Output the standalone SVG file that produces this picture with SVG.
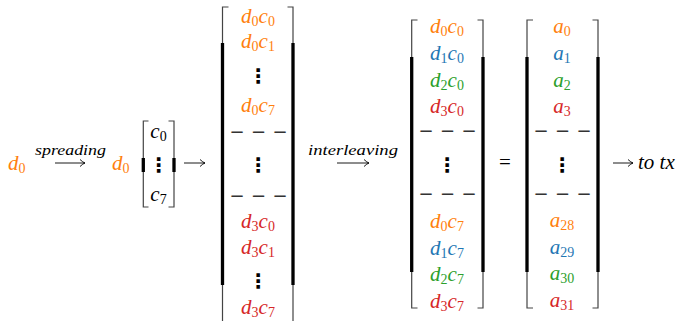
<svg xmlns="http://www.w3.org/2000/svg" width="684" height="321" viewBox="0 0 684 321">
<defs>
<marker id="ah" viewBox="-6 -4 7 8" refX="0" refY="0" markerWidth="7" markerHeight="8" markerUnits="userSpaceOnUse" orient="auto">
<path d="M-5,-3.5 Q-2,-0.6 0,0 Q-2,0.6 -5,3.5" fill="none" stroke="#000" stroke-width="0.9"/>
</marker>
</defs>

<g id="d0-input">
<text font-family="Liberation Serif, serif" font-style="italic" font-size="21" fill="#ff7f0e" x="8" y="170">d<tspan font-style="normal" font-size="14" dy="3">0</tspan></text>
</g>

<g id="label-spreading">
<text font-family="Liberation Serif, serif" font-style="italic" font-size="15" fill="#000" x="35" y="155" textLength="71" lengthAdjust="spacingAndGlyphs">spreading</text>
</g>

<g id="d0-times-code">
<text font-family="Liberation Serif, serif" font-style="italic" font-size="21" fill="#ff7f0e" x="112" y="170">d<tspan font-style="normal" font-size="14" dy="3">0</tspan></text>
<g fill="none">
<path stroke="#444" stroke-width="1.2" d="M148.5,121 H143.3 V158 M143.3,172 V207 H148.5 M168.5,121 H174 V158 M174,172 V207 H168.5"/>
<path stroke="#000" stroke-width="3.3" d="M143.3,158 V172 M174,158 V172"/>
</g>
<text font-family="Liberation Serif, serif" font-style="italic" font-size="21" fill="#000" x="158.5" y="138" text-anchor="middle">c<tspan font-style="normal" font-size="14" dy="3">0</tspan></text>
<text font-family="DejaVu Sans, sans-serif" font-weight="bold" font-size="20" fill="#000" x="158.5" y="172" text-anchor="middle">⋮</text>
<text font-family="Liberation Serif, serif" font-style="italic" font-size="21" fill="#000" x="158.5" y="201" text-anchor="middle">c<tspan font-style="normal" font-size="14" dy="3">7</tspan></text>
</g>

<g id="matrix-spread">
<g fill="none">
<path stroke="#444" stroke-width="1.2" d="M228.5,7 H222.5 V43 M222.5,285 V325 H228.5 M287.5,7 H293 V43 M293,285 V325 H287.5"/>
<path stroke="#000" stroke-width="3.3" d="M222.5,43 V285 M293,43 V285"/>
</g>
<text font-family="Liberation Serif, serif" font-style="italic" font-size="21" fill="#ff7f0e" x="258" y="23" text-anchor="middle">d<tspan font-style="normal" font-size="14" dy="3">0</tspan><tspan dy="-3">c</tspan><tspan font-style="normal" font-size="14" dy="3">0</tspan></text>
<text font-family="Liberation Serif, serif" font-style="italic" font-size="21" fill="#ff7f0e" x="258" y="48" text-anchor="middle">d<tspan font-style="normal" font-size="14" dy="3">0</tspan><tspan dy="-3">c</tspan><tspan font-style="normal" font-size="14" dy="3">1</tspan></text>
<text font-family="DejaVu Sans, sans-serif" font-weight="bold" font-size="20" fill="#000" x="258" y="83" text-anchor="middle">⋮</text>
<text font-family="Liberation Serif, serif" font-style="italic" font-size="21" fill="#ff7f0e" x="258" y="112" text-anchor="middle">d<tspan font-style="normal" font-size="14" dy="3">0</tspan><tspan dy="-3">c</tspan><tspan font-style="normal" font-size="14" dy="3">7</tspan></text>
<text font-family="DejaVu Sans, sans-serif" font-size="18" fill="#333" x="258.5" y="138" text-anchor="middle" textLength="58" lengthAdjust="spacing">−−−</text>
<text font-family="DejaVu Sans, sans-serif" font-weight="bold" font-size="20" fill="#000" x="258" y="172" text-anchor="middle">⋮</text>
<text font-family="DejaVu Sans, sans-serif" font-size="18" fill="#333" x="258.5" y="202" text-anchor="middle" textLength="58" lengthAdjust="spacing">−−−</text>
<text font-family="Liberation Serif, serif" font-style="italic" font-size="21" fill="#d62728" x="258" y="228" text-anchor="middle">d<tspan font-style="normal" font-size="14" dy="3">3</tspan><tspan dy="-3">c</tspan><tspan font-style="normal" font-size="14" dy="3">0</tspan></text>
<text font-family="Liberation Serif, serif" font-style="italic" font-size="21" fill="#d62728" x="258" y="254" text-anchor="middle">d<tspan font-style="normal" font-size="14" dy="3">3</tspan><tspan dy="-3">c</tspan><tspan font-style="normal" font-size="14" dy="3">1</tspan></text>
<text font-family="DejaVu Sans, sans-serif" font-weight="bold" font-size="20" fill="#000" x="258" y="288" text-anchor="middle">⋮</text>
<text font-family="Liberation Serif, serif" font-style="italic" font-size="21" fill="#d62728" x="258" y="314" text-anchor="middle">d<tspan font-style="normal" font-size="14" dy="3">3</tspan><tspan dy="-3">c</tspan><tspan font-style="normal" font-size="14" dy="3">7</tspan></text>
</g>

<g id="label-interleaving">
<text font-family="Liberation Serif, serif" font-style="italic" font-size="15" fill="#000" x="308" y="155" textLength="90" lengthAdjust="spacingAndGlyphs">interleaving</text>
</g>

<g id="matrix-interleaved">
<g fill="none">
<path stroke="#444" stroke-width="1.2" d="M417.5,20 H411.7 V57 M411.7,272 V308 H417.5 M477.5,20 H483 V57 M483,272 V308 H477.5"/>
<path stroke="#000" stroke-width="3.3" d="M411.7,57 V272 M483,57 V272"/>
</g>
<text font-family="Liberation Serif, serif" font-style="italic" font-size="21" fill="#ff7f0e" x="447" y="33" text-anchor="middle">d<tspan font-style="normal" font-size="14" dy="3">0</tspan><tspan dy="-3">c</tspan><tspan font-style="normal" font-size="14" dy="3">0</tspan></text>
<text font-family="Liberation Serif, serif" font-style="italic" font-size="21" fill="#1f77b4" x="447" y="60" text-anchor="middle">d<tspan font-style="normal" font-size="14" dy="3">1</tspan><tspan dy="-3">c</tspan><tspan font-style="normal" font-size="14" dy="3">0</tspan></text>
<text font-family="Liberation Serif, serif" font-style="italic" font-size="21" fill="#2ca02c" x="447" y="86.5" text-anchor="middle">d<tspan font-style="normal" font-size="14" dy="3">2</tspan><tspan dy="-3">c</tspan><tspan font-style="normal" font-size="14" dy="3">0</tspan></text>
<text font-family="Liberation Serif, serif" font-style="italic" font-size="21" fill="#d62728" x="447" y="113" text-anchor="middle">d<tspan font-style="normal" font-size="14" dy="3">3</tspan><tspan dy="-3">c</tspan><tspan font-style="normal" font-size="14" dy="3">0</tspan></text>
<text font-family="DejaVu Sans, sans-serif" font-size="18" fill="#333" x="447.5" y="137" text-anchor="middle" textLength="58" lengthAdjust="spacing">−−−</text>
<text font-family="DejaVu Sans, sans-serif" font-weight="bold" font-size="20" fill="#000" x="447" y="172" text-anchor="middle">⋮</text>
<text font-family="DejaVu Sans, sans-serif" font-size="18" fill="#333" x="447.5" y="200" text-anchor="middle" textLength="58" lengthAdjust="spacing">−−−</text>
<text font-family="Liberation Serif, serif" font-style="italic" font-size="21" fill="#ff7f0e" x="447" y="228" text-anchor="middle">d<tspan font-style="normal" font-size="14" dy="3">0</tspan><tspan dy="-3">c</tspan><tspan font-style="normal" font-size="14" dy="3">7</tspan></text>
<text font-family="Liberation Serif, serif" font-style="italic" font-size="21" fill="#1f77b4" x="447" y="254.5" text-anchor="middle">d<tspan font-style="normal" font-size="14" dy="3">1</tspan><tspan dy="-3">c</tspan><tspan font-style="normal" font-size="14" dy="3">7</tspan></text>
<text font-family="Liberation Serif, serif" font-style="italic" font-size="21" fill="#2ca02c" x="447" y="281" text-anchor="middle">d<tspan font-style="normal" font-size="14" dy="3">2</tspan><tspan dy="-3">c</tspan><tspan font-style="normal" font-size="14" dy="3">7</tspan></text>
<text font-family="Liberation Serif, serif" font-style="italic" font-size="21" fill="#d62728" x="447" y="307.5" text-anchor="middle">d<tspan font-style="normal" font-size="14" dy="3">3</tspan><tspan dy="-3">c</tspan><tspan font-style="normal" font-size="14" dy="3">7</tspan></text>
</g>

<g id="equals">
<text font-family="Liberation Serif, serif" font-size="21" fill="#000" x="505" y="169" text-anchor="middle">=</text>
</g>

<g id="matrix-a">
<g fill="none">
<path stroke="#444" stroke-width="1.2" d="M533,20 H527 V57 M527,272 V308 H533 M592.5,20 H598 V57 M598,272 V308 H592.5"/>
<path stroke="#000" stroke-width="3.3" d="M527,57 V272 M598,57 V272"/>
</g>
<text font-family="Liberation Serif, serif" font-style="italic" font-size="21" fill="#ff7f0e" x="562" y="33" text-anchor="middle">a<tspan font-style="normal" font-size="14" dy="3">0</tspan></text>
<text font-family="Liberation Serif, serif" font-style="italic" font-size="21" fill="#1f77b4" x="562" y="60" text-anchor="middle">a<tspan font-style="normal" font-size="14" dy="3">1</tspan></text>
<text font-family="Liberation Serif, serif" font-style="italic" font-size="21" fill="#2ca02c" x="562" y="86.5" text-anchor="middle">a<tspan font-style="normal" font-size="14" dy="3">2</tspan></text>
<text font-family="Liberation Serif, serif" font-style="italic" font-size="21" fill="#d62728" x="562" y="113" text-anchor="middle">a<tspan font-style="normal" font-size="14" dy="3">3</tspan></text>
<text font-family="DejaVu Sans, sans-serif" font-size="18" fill="#333" x="562.5" y="137" text-anchor="middle" textLength="58" lengthAdjust="spacing">−−−</text>
<text font-family="DejaVu Sans, sans-serif" font-weight="bold" font-size="20" fill="#000" x="562" y="172" text-anchor="middle">⋮</text>
<text font-family="DejaVu Sans, sans-serif" font-size="18" fill="#333" x="562.5" y="200" text-anchor="middle" textLength="58" lengthAdjust="spacing">−−−</text>
<text font-family="Liberation Serif, serif" font-style="italic" font-size="21" fill="#ff7f0e" x="562" y="227" text-anchor="middle">a<tspan font-style="normal" font-size="14" dy="3">28</tspan></text>
<text font-family="Liberation Serif, serif" font-style="italic" font-size="21" fill="#1f77b4" x="562" y="253.5" text-anchor="middle">a<tspan font-style="normal" font-size="14" dy="3">29</tspan></text>
<text font-family="Liberation Serif, serif" font-style="italic" font-size="21" fill="#2ca02c" x="562" y="280" text-anchor="middle">a<tspan font-style="normal" font-size="14" dy="3">30</tspan></text>
<text font-family="Liberation Serif, serif" font-style="italic" font-size="21" fill="#d62728" x="562" y="306.5" text-anchor="middle">a<tspan font-style="normal" font-size="14" dy="3">31</tspan></text>
</g>

<g id="to-tx">
<text font-family="Liberation Serif, serif" font-style="italic" font-size="21" fill="#000" x="638" y="169">to tx</text>
</g>

<g id="connectors" stroke="#000" stroke-width="0.9" fill="none">
<line x1="55" y1="163" x2="85" y2="163" marker-end="url(#ah)"/>
<line x1="184" y1="163" x2="205" y2="163" marker-end="url(#ah)"/>
<line x1="337" y1="163" x2="369" y2="163" marker-end="url(#ah)"/>
<line x1="613" y1="163" x2="633" y2="163" marker-end="url(#ah)"/>
</g>
</svg>
